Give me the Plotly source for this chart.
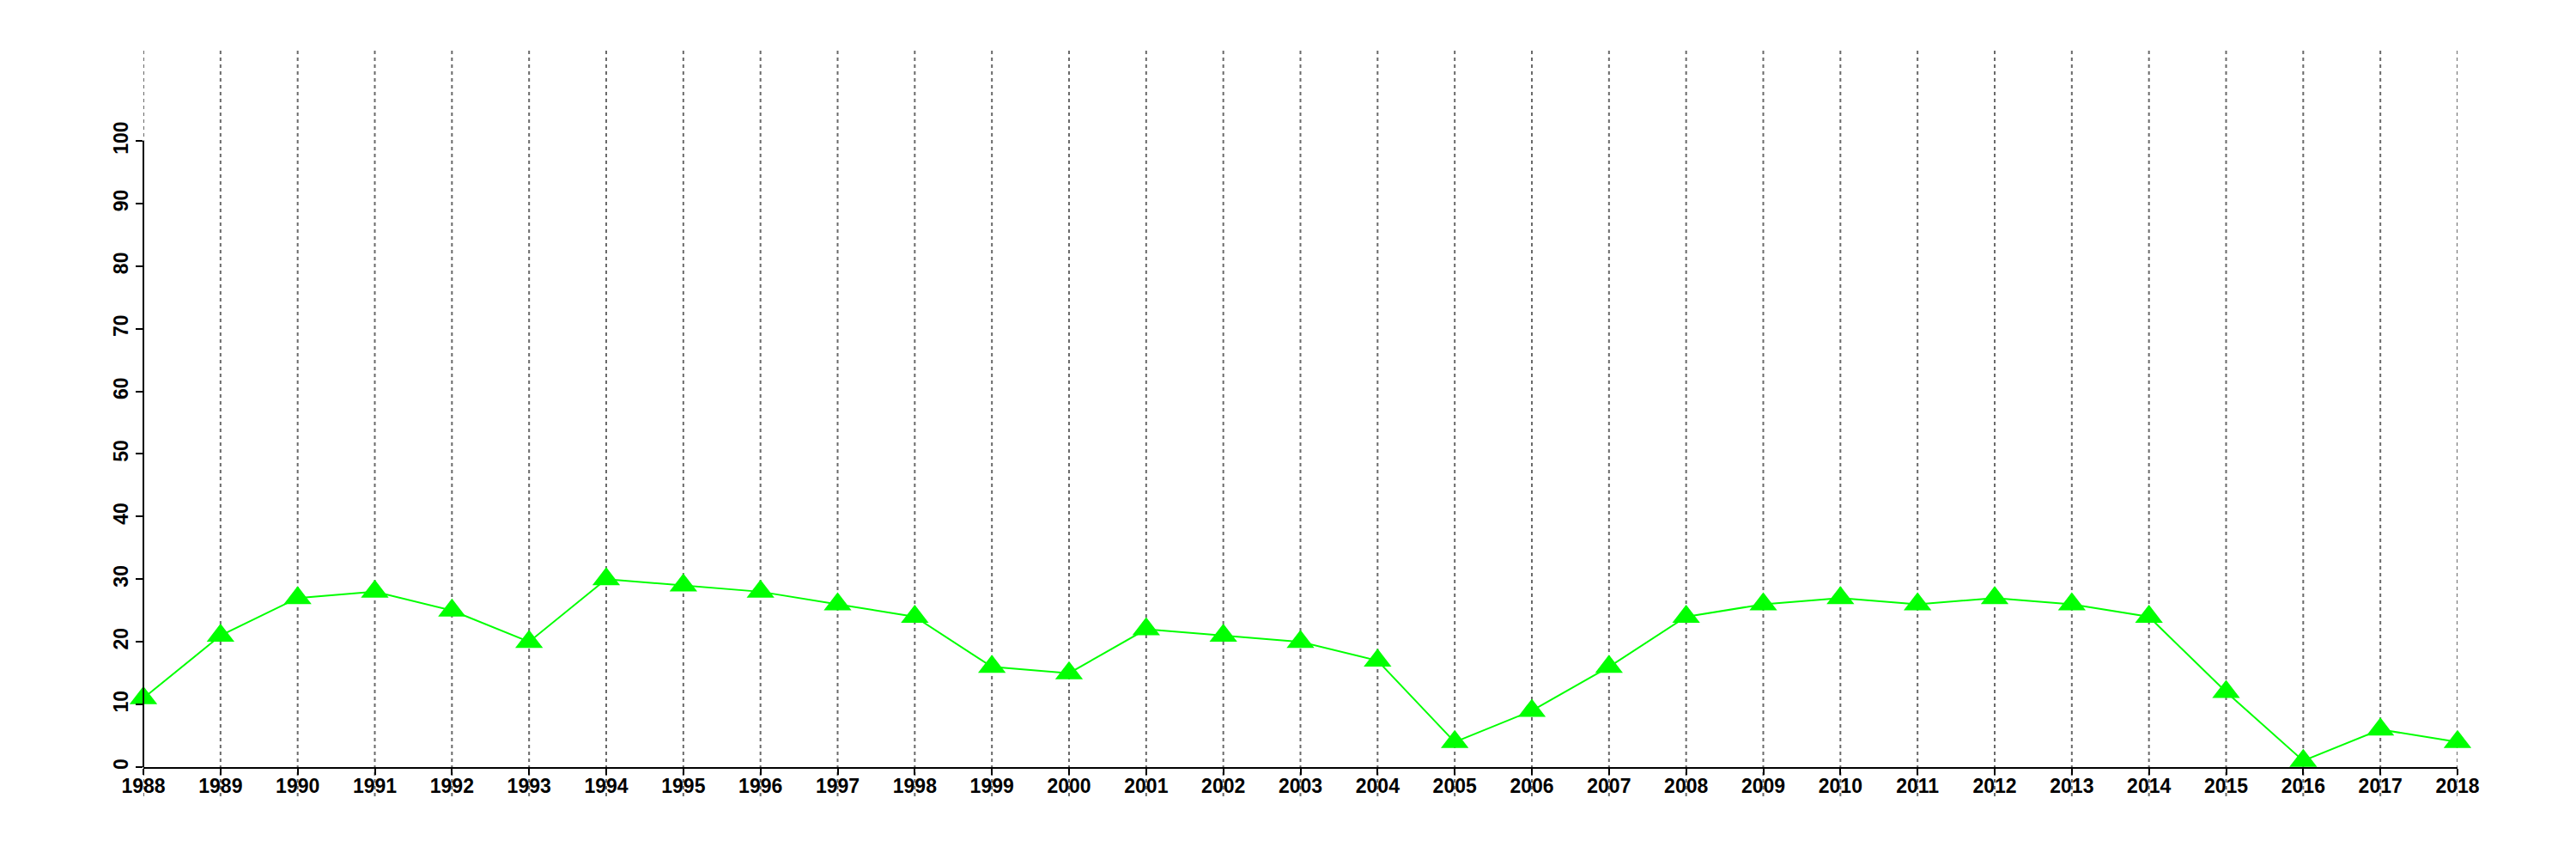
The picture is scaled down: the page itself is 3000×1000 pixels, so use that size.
import plotly.graph_objects as go

years = list(range(1988, 2019))
values = [11, 21, 27, 28, 25, 20, 30, 29, 28, 26, 24, 16, 15, 22, 21, 20, 17,
          4, 9, 16, 24, 26, 27, 26, 27, 26, 24, 12, 1, 6, 4]
y_ticks = list(range(0, 101, 10))

FONT = dict(family="Liberation Sans, Arial, sans-serif", size=23, color="black", weight="bold")

W, H = 2984, 984
L, T = 158.5, 51
PW, PH = 2695.2, 834.3

fig = go.Figure()
fig.add_trace(go.Scatter(
    x=years, y=values, mode="lines+markers",
    line=dict(color="#00FF00", width=2),
    marker=dict(symbol="triangle-up", size=28, color="#00FF00"),
    cliponaxis=False, showlegend=False,
))

shapes = [dict(type="line", xref="x", x0=yr, x1=yr, yref="paper", y0=-34 / PH, y1=1,
               line=dict(color="#6a6a6a", width=2, dash="4px,4px"), layer="below")
          for yr in years]
shapes.append(dict(type="line", xref="paper", x0=0, x1=0, yref="y", y0=y_ticks[0], y1=y_ticks[-1],
                   line=dict(color="black", width=2), layer="above"))

fig.update_layout(
    width=W, height=H,
    margin=dict(l=L, r=W - L - PW, t=T, b=H - T - PH, autoexpand=False),
    paper_bgcolor="white", plot_bgcolor="white",
    xaxis=dict(
        range=[years[0], years[-1]], tickvals=years, ticktext=[str(y) for y in years],
        showline=True, linecolor="black", linewidth=2,
        ticks="outside", ticklen=7, tickwidth=2, tickcolor="black",
        showgrid=False, zeroline=False, tickfont=FONT, tickangle=0, automargin=False,
        ticklabelstandoff=-7,
    ),
    yaxis=dict(
        range=[0, 114.4], tickvals=y_ticks, ticktext=[str(v) for v in y_ticks],
        showline=False, ticks="outside", ticklen=8, tickwidth=2, tickcolor="black",
        showgrid=False, zeroline=False, tickfont=FONT, tickangle=-90, automargin=False,
    ),
    shapes=shapes,
)

fig.write_html("out.html")
